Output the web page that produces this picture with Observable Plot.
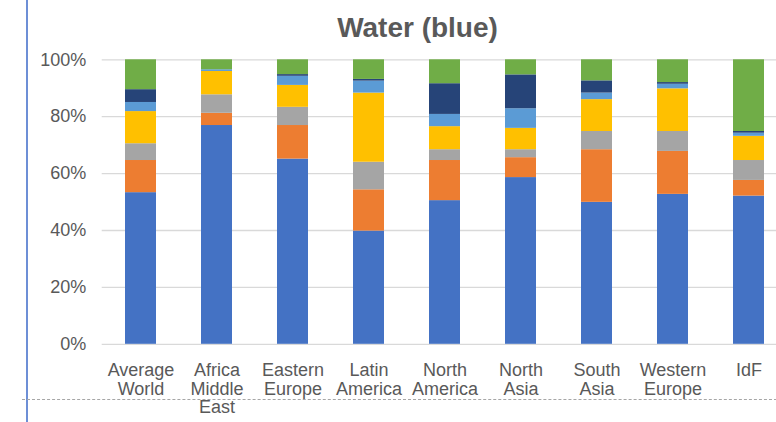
<!DOCTYPE html>
<html>
<head>
<meta charset="utf-8">
<script src="https://cdn.jsdelivr.net/npm/d3@7"></script>
<script src="https://cdn.jsdelivr.net/npm/@observablehq/plot@0.6"></script>
<style>
  html, body { margin: 0; padding: 0; background: #fff; overflow: hidden; }
  #wrap { position: relative; width: 776px; height: 422px; overflow: hidden; }
  #title {
    position: absolute; left: 0; top: 12px; width: 835px; text-align: center;
    font: bold 28px "Liberation Sans", Arial, sans-serif; color: #595959;
  }
  #edge { position: absolute; left: 26px; top: 0; width: 0; height: 422px; border-left: 2px solid #6d8fd6; }
  #fold { position: absolute; left: 22px; top: 399px; width: 760px; height: 0; border-top: 1.5px dashed #a6a6a6; }
</style>
</head>
<body>
<div id="wrap">
  <div id="chart"></div>
  <div id="title">Water (blue)</div>
  <div id="edge"></div>
  <div id="fold"></div>
</div>
<script>
// Regions along the horizontal axis
const regions = ["Average\nWorld", "Africa\nMiddle\nEast", "Eastern\nEurope", "Latin\nAmerica",
  "North\nAmerica", "North\nAsia", "South\nAsia", "Western\nEurope", "IdF"];

// Share (%) of each component per region, bottom to top
const blue      = [53.3, 76.9, 65.1, 39.8, 50.5, 58.6, 49.9, 52.7, 52.1];
const orange    = [11.3,  4.3, 11.8, 14.5, 14.1,  7.0, 18.5, 15.1,  5.5];
const gray      = [ 5.9,  6.5,  6.4,  9.7,  3.8,  2.8,  6.4,  7.0,  7.0];
const yellow    = [11.3,  8.2,  7.7, 24.3,  8.1,  7.5, 11.2, 15.0,  8.5];
const lightBlue = [ 3.2,  0.6,  3.2,  4.2,  4.3,  6.9,  2.3,  1.6,  1.1];
const darkBlue  = [ 4.5,  0.0,  0.6,  0.6, 10.8, 11.9,  4.3,  0.6,  0.6];
const green     = [10.5,  3.5,  5.2,  6.9,  8.4,  5.3,  7.4,  8.0, 25.2];

const yTicks = [0, 20, 40, 60, 80, 100];

const seriesNames  = ["blue", "orange", "gray", "yellow", "lightBlue", "darkBlue", "green"];
const seriesValues = [blue, orange, gray, yellow, lightBlue, darkBlue, green];
const seriesColors = ["#4472C4", "#ED7D31", "#A5A5A5", "#FFC000", "#5B9BD5", "#264478", "#70AD47"];

const rows = seriesNames.flatMap((name, i) =>
  regions.map((region, j) => ({region, series: name, value: seriesValues[i][j]})));

const chart = Plot.plot({
  width: 776,
  height: 422,
  marginLeft: 101.7,
  marginRight: -11,
  marginTop: 59.3,
  marginBottom: 78.2,
  style: {fontFamily: "'Liberation Sans', Arial, sans-serif", fontSize: "18px", color: "#595959", background: "transparent"},
  x: {domain: regions, paddingInner: 0.597, paddingOuter: 0.2985, label: null},
  y: {domain: [0, 100], label: null},
  color: {type: "ordinal", domain: seriesNames, range: seriesColors},
  marks: [
    Plot.gridY(yTicks, {stroke: "#d9d9d9", strokeOpacity: 1, strokeWidth: 1.3}),
    Plot.barY(rows, Plot.stackY({x: "region", y: "value", fill: {value: "series", scale: "color"}, order: null})),
    Plot.axisY(yTicks, {tickSize: 0, tickPadding: 16, tickFormat: d => d + "%", fill: "#595959", label: null}),
    Plot.axisX({tickSize: 0, tickPadding: 19, lineHeight: 1.02, fill: "#595959", label: null})
  ]
});
document.getElementById("chart").appendChild(chart);
</script>
</body>
</html>
